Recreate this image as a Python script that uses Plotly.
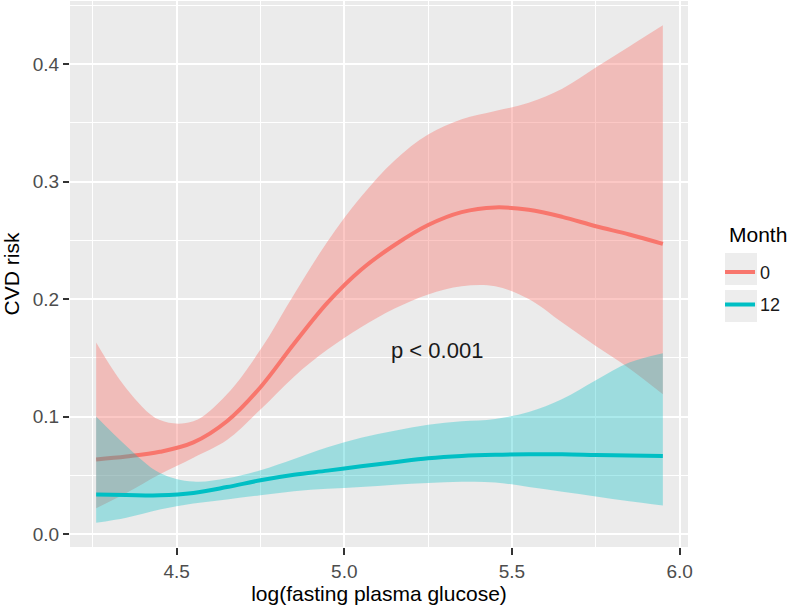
import plotly.graph_objects as go

# ---- data ----
glucose = [4.26, 4.35, 4.45, 4.55, 4.65, 4.75, 4.85, 4.95, 5.05, 5.15, 5.25, 5.35,
           5.45, 5.55, 5.65, 5.75, 5.85, 5.95]

risk_m0 = [0.0635, 0.066, 0.070, 0.078, 0.096, 0.125, 0.162, 0.197, 0.225, 0.246, 0.263, 0.274,
           0.278, 0.276, 0.270, 0.262, 0.255, 0.247]
upper_m0 = [0.163, 0.124, 0.097, 0.096, 0.119, 0.157, 0.204, 0.249, 0.287, 0.318, 0.340, 0.353,
            0.360, 0.367, 0.379, 0.397, 0.415, 0.433]
lower_m0 = [0.022, 0.035, 0.051, 0.065, 0.080, 0.106, 0.134, 0.157, 0.176, 0.192, 0.204, 0.211,
            0.211, 0.200, 0.180, 0.160, 0.141, 0.119]

risk_m12 = [0.0337, 0.0333, 0.0330, 0.0350, 0.0400, 0.0458, 0.0505, 0.0540, 0.0577, 0.0612, 0.0645, 0.0665,
            0.0675, 0.0679, 0.0679, 0.0673, 0.0668, 0.0665]
upper_m12 = [0.100, 0.075, 0.052, 0.0447, 0.0475, 0.0544, 0.064, 0.074, 0.082, 0.088, 0.093, 0.096,
             0.098, 0.104, 0.115, 0.131, 0.146, 0.154]
lower_m12 = [0.0096, 0.014, 0.021, 0.026, 0.0295, 0.033, 0.0365, 0.0385, 0.040, 0.042, 0.0435, 0.0445,
             0.0440, 0.040, 0.036, 0.032, 0.028, 0.0244]

month_labels = ["0", "12"]
x_ticks = [4.5, 5.0, 5.5, 6.0]
y_ticks = [0.0, 0.1, 0.2, 0.3, 0.4]

RED = "#F8766D"
TEAL = "#00BFC4"
FONT = "Liberation Sans, Arial, sans-serif"

fig = go.Figure()

series = [
    (month_labels[0], risk_m0, upper_m0, lower_m0, RED, "rgba(248,118,109,0.4)"),
    (month_labels[1], risk_m12, upper_m12, lower_m12, TEAL, "rgba(0,191,196,0.33)"),
]
for name, mid, up, lo, col, fillc in series:
    fig.add_trace(go.Scatter(x=glucose, y=up, mode="lines", line=dict(width=0, shape="spline"),
                             showlegend=False, hoverinfo="skip"))
    fig.add_trace(go.Scatter(x=glucose, y=lo, mode="lines", line=dict(width=0, shape="spline"),
                             fill="tonexty", fillcolor=fillc, showlegend=False, hoverinfo="skip"))
    fig.add_trace(go.Scatter(x=glucose, y=mid, mode="lines", name=name, legendgroup=name,
                             line=dict(color=col, width=4, shape="spline")))

fig.add_annotation(x=5.277, y=0.156, text="p < 0.001", showarrow=False,
                   font=dict(size=22, color="#1a1a1a", family=FONT))

# legend title
fig.add_annotation(xref="paper", yref="paper", x=1.0631, y=0.5723, xanchor="left", yanchor="middle",
                   text="Month", showarrow=False, font=dict(size=21, color="#000000", family=FONT))

# legend key backgrounds
for y0, y1 in [(0.5385, 0.4799), (0.4707, 0.4121)]:
    fig.add_shape(type="rect", xref="paper", yref="paper", x0=1.0599, x1=1.1117, y0=y0, y1=y1,
                  fillcolor="#EDEDED", line=dict(width=0), layer="below")

fig.update_layout(
    width=787, height=605,
    margin=dict(l=70, r=99, t=1, b=58),
    paper_bgcolor="white", plot_bgcolor="#EBEBEB",
    font=dict(family=FONT, color="#000000"),
    showlegend=True,
    legend=dict(font=dict(size=18, color="#1a1a1a"),
                x=1.0518, xanchor="left", y=0.537, yanchor="top",
                traceorder="grouped", tracegroupgap=6,
                bgcolor="rgba(0,0,0,0)", itemwidth=30),
    xaxis=dict(range=[4.182, 6.025], tickvals=x_ticks, ticktext=["4.5", "5.0", "5.5", "6.0"],
               showgrid=True, gridcolor="white", gridwidth=2,
               minor=dict(dtick=0.25, tick0=4.25, showgrid=True, gridcolor="white", gridwidth=1),
               ticks="outside", ticklen=7, tickwidth=2, tickcolor="#333333",
               tickfont=dict(size=19, color="#4D4D4D"), zeroline=False, showline=False,
               title=dict(text="log(fasting plasma glucose)", font=dict(size=21, color="#000000"),
                          standoff=5),
               automargin=False),
    yaxis=dict(range=[-0.011, 0.4537], tickvals=y_ticks, ticktext=["0.0", "0.1", "0.2", "0.3", "0.4"],
               showgrid=True, gridcolor="white", gridwidth=2,
               minor=dict(dtick=0.05, tick0=0, showgrid=True, gridcolor="white", gridwidth=1),
               ticks="outside", ticklen=6, tickwidth=2, tickcolor="#333333",
               tickfont=dict(size=19, color="#4D4D4D"), zeroline=False, showline=False,
               title=dict(text="CVD risk", font=dict(size=21, color="#000000"), standoff=8),
               automargin=False),
)

fig.write_html("out.html", config={"displayModeBar": False},
               post_script="document.body.style.margin='0';")
